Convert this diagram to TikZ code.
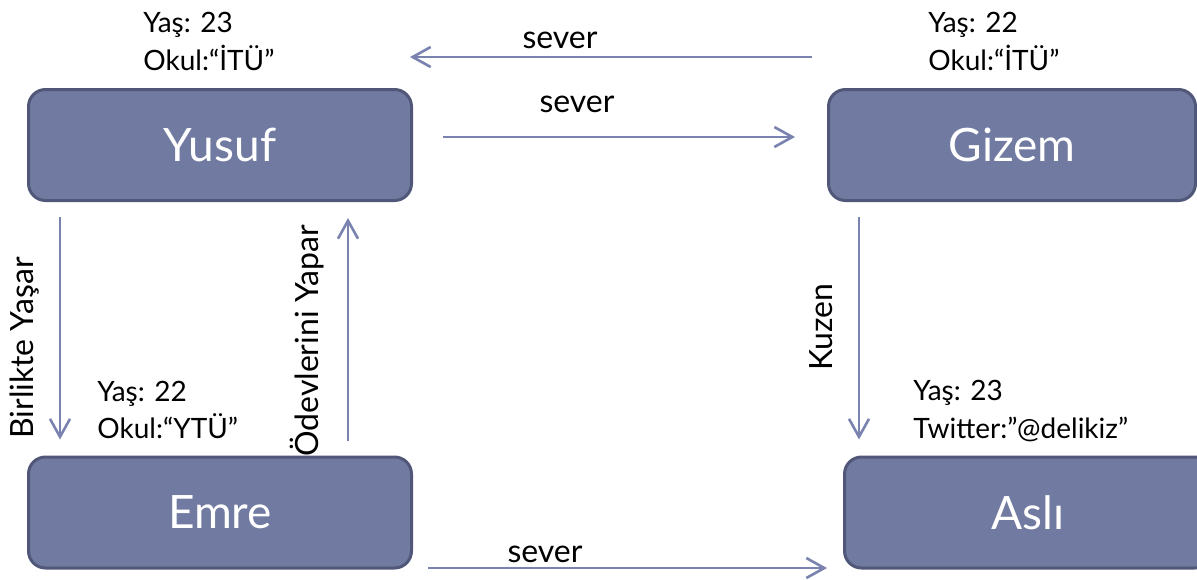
\documentclass[tikz,border=0pt]{standalone}
\usepackage{fontspec}
\setmainfont{Lato}
\usetikzlibrary{arrows.meta}
\definecolor{boxfill}{RGB}{113,122,160}
\definecolor{boxline}{RGB}{80,87,120}
\definecolor{relcol}{RGB}{122,130,175}

\begin{document}
\begin{tikzpicture}[x=0.5pt,y=-0.5pt,
  person/.style={rectangle, rounded corners=8.5pt, fill=boxfill, draw=boxline,
    line width=1.5pt, inner sep=0pt, outer sep=0pt, minimum height=55.5pt,
    font=\fontsize{23}{27}\selectfont, text=white},
  attr/.style={anchor=base west, inner sep=0pt, font=\fontsize{14}{17}\selectfont},
  lbl/.style={anchor=base, inner sep=0pt, font=\fontsize{16}{19}\selectfont},
  rel/.style={draw=relcol, line width=1.3pt, -{Straight Barb[length=9pt,width=10pt]}}]

\useasboundingbox (0,0) rectangle (1197,579);

% people
\node[person, minimum width=191.5pt] (yusuf) at (220,145) {Yusuf};
\node[person, minimum width=183.5pt] (gizem) at (1012,145) {Gizem};
\node[person, minimum width=191.5pt] (emre)  at (220,512.5) {Emre};
\node[person, minimum width=183.5pt] (asli)  at (1028,512.5) {Aslı};

% attributes
\node[attr] (yusufage) at (143,32) {Yaş: 23};
\node[attr] (yusufokul) at (143,70) {Okul:“İTÜ”};
\node[attr] (gizemage) at (928,32) {Yaş: 22};
\node[attr] (gizemokul) at (928,70) {Okul:“İTÜ”};
\node[attr] (emreage) at (97,401) {Yaş: 22};
\node[attr] (emreokul) at (97,438) {Okul:“YTÜ”};
\node[attr] (asliage) at (913,400) {Yaş: 23};
\node[attr] (aslitw) at (913,438) {Twitter:”@delikiz”};

% relations
\draw[rel, shorten <=8.25pt, shorten >=-0.75pt]
  ([yshift=44pt]gizem.west) -- ([yshift=44pt]yusuf.east);
\draw[rel, shorten <=15.75pt, shorten >=16.75pt]
  ([yshift=4pt]yusuf.east) -- ([yshift=4pt]gizem.west);
\draw[rel, shorten <=8.25pt, shorten >=8.75pt]
  ([yshift=-27.75pt]emre.east) -- ([yshift=-27.75pt]asli.west);
\draw[rel, shorten <=8.25pt, shorten >=8.75pt]
  ([xshift=15.75pt]yusuf.south west) -- ([xshift=15.75pt]emre.north west);
\draw[rel, shorten <=8.25pt, shorten >=8.75pt]
  ([xshift=-31.75pt]emre.north east) -- ([xshift=-31.75pt]yusuf.south east);
\draw[rel, shorten <=8.25pt, shorten >=8.75pt]
  ([xshift=15.25pt]gizem.south west) -- ([xshift=15.25pt]gizem.south west |- asli.north);

% relation labels
\node[lbl] (lsever1) at (560,48) {sever};
\node[lbl] (lsever2) at (577,112) {sever};
\node[lbl] (lsever3) at (545,562) {sever};
\node[lbl, rotate=90] (lbirlikte) at (33,348) {Birlikte Yaşar};
\node[lbl, rotate=90] (lodev) at (318,341) {Ödevlerini Yapar};
\node[lbl, rotate=90] (lkuzen) at (832,327) {Kuzen};
\end{tikzpicture}
\end{document}
